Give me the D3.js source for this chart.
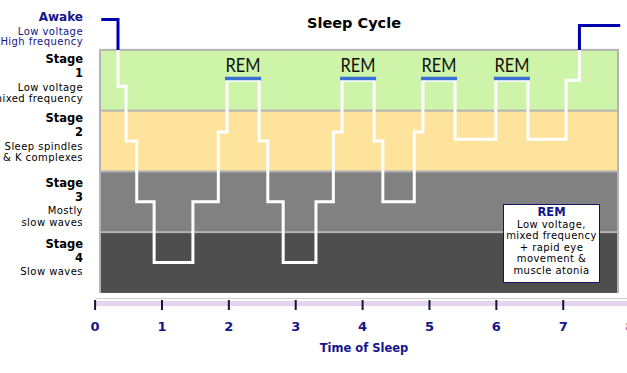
<!DOCTYPE html>
<html>
<head>
<meta charset="utf-8">
<script src="https://cdn.jsdelivr.net/npm/d3@7"></script>
<style>
  body { margin: 0; background: #fff; }
  svg { display: block; }
  .small { font-family: 'DejaVu Sans', sans-serif; font-size: 10px; letter-spacing: 0.45px; }
  .bold { font-family: 'DejaVu Sans', sans-serif; font-weight: bold; }
</style>
</head>
<body>
<svg width="627" height="373"></svg>
<script>
const svg = d3.select('svg');

// hypnogram: time (hours) where each stage starts, and the stage held from then on
const times  = [0.1, 0.35, 0.47, 0.63, 0.89, 1.47, 1.85, 1.98, 2.46, 2.59, 2.82, 3.31, 3.57, 3.70, 4.18, 4.31, 4.78, 4.91, 5.39, 6.00, 6.48, 7.05, 7.25, 7.86];
const stages = [0,   1.1,  2,    3,    4,    3,    1.85, 1,    2,    3,    4,    3,    1.85, 1,    2,    3,    1.85, 1,    1.97, 1,    1.97, 1,    0.1,  0.1];

// REM periods (hours)
const remStart = [1.98, 3.70, 4.91, 6.00];
const remEnd   = [2.46, 4.18, 5.39, 6.48];

const xTicks = [0, 1, 2, 3, 4, 5, 6, 7, 8];

const bandStages = [1, 2, 3, 4];
const bandColors = ['#cdf4a9', '#fde39c', '#818181', '#4e4e4e'];
const bandLabels = [
    ['Low voltage', 'mixed frequency'],
    ['Sleep spindles', '& K complexes'],
    ['Mostly', 'slow waves'],
    ['Slow waves']
];
const awakeLabels = ['Low voltage', 'High frequency'];
const remNote = ['Low voltage,', 'mixed frequency', '+ rapid eye', 'movement &', 'muscle atonia'];

const navy = '#14148c';
const panelLeft = 100, panelRight = 618;

const xScale = d3.scaleLinear().domain([0, 8]).range([94.6, 629.6]);
const yScale = d3.scaleLinear().domain([0, 4]).range([19.5, 262.5]);

// stage bands
const panelTop = yScale(0.5), panelBottom = yScale(4.5);
svg.append('rect')
    .attr('x', panelLeft - 1).attr('y', panelTop - 1)
    .attr('width', panelRight - panelLeft + 2).attr('height', panelBottom - panelTop + 1)
    .attr('fill', '#b4b4b4');
svg.selectAll('.band').data(bandStages).enter().append('rect')
    .attr('class', 'band')
    .attr('x', panelLeft + 1)
    .attr('width', panelRight - panelLeft - 2)
    .attr('y', d => yScale(d - 0.5) + 1)
    .attr('height', d => yScale(d + 0.5) - yScale(d - 0.5) - (d === 4 ? 1 : 2))
    .attr('fill', (d, i) => bandColors[i]);

// hypnogram line: blue above the panel (awake), white inside
const defs = svg.append('defs');
defs.append('clipPath').attr('id', 'above')
    .append('rect').attr('x', 0).attr('y', 0).attr('width', 627).attr('height', panelTop);
defs.append('clipPath').attr('id', 'inside')
    .append('rect').attr('x', 0).attr('y', panelTop).attr('width', 627).attr('height', 373);

const pts = times.map((t, i) => [t, stages[i]]);
const line = d3.line()
    .x(d => xScale(d[0]))
    .y(d => yScale(d[1]))
    .curve(d3.curveStepAfter);

svg.append('path')
    .attr('d', line(pts))
    .attr('fill', 'none')
    .attr('stroke', '#0000b0')
    .attr('stroke-width', 3)
    .attr('clip-path', 'url(#above)');
svg.append('path')
    .attr('d', line(pts))
    .attr('fill', 'none')
    .attr('stroke', '#ffffff')
    .attr('stroke-width', 3)
    .attr('clip-path', 'url(#inside)');

// REM bars + labels
remStart.forEach((s, i) => {
    const x0 = xScale(s) - 2, x1 = xScale(remEnd[i]) + 2;
    svg.append('rect')
        .attr('x', x0).attr('y', yScale(1) - 3.5)
        .attr('width', x1 - x0).attr('height', 3.5)
        .attr('fill', '#3a6fd2');
    svg.append('text')
        .attr('x', (x0 + x1) / 2).attr('y', yScale(1) - 8)
        .attr('text-anchor', 'middle')
        .attr('font-family', 'Lato, sans-serif')
        .attr('font-size', 19)
        .attr('textLength', 35)
        .attr('lengthAdjust', 'spacingAndGlyphs')
        .attr('fill', '#111')
        .text('REM');
});

// title
svg.append('text')
    .attr('class', 'bold')
    .attr('x', 354).attr('y', 28)
    .attr('text-anchor', 'middle')
    .attr('font-size', 14.5)
    .attr('fill', '#000')
    .text('Sleep Cycle');

// left labels
const labelX = 83;
svg.append('text').attr('class', 'bold')
    .attr('x', labelX).attr('y', 21).attr('text-anchor', 'end')
    .attr('font-size', 12).attr('fill', navy).text('Awake');
awakeLabels.forEach((t, i) => {
    svg.append('text').attr('class', 'small')
        .attr('x', labelX).attr('y', 34.5 + i * 10).attr('text-anchor', 'end')
        .attr('fill', navy).text(t);
});

const stageShift = [0, -2, 2, 2];
bandStages.forEach((s, i) => {
    const base = yScale(s) + stageShift[i];
    const g = svg.append('g');
    g.append('text').attr('class', 'bold')
        .attr('x', labelX).attr('y', base - 17).attr('text-anchor', 'end')
        .attr('font-size', 11.5).attr('fill', '#000').text('Stage');
    g.append('text').attr('class', 'bold')
        .attr('x', labelX).attr('y', base - 3).attr('text-anchor', 'end')
        .attr('font-size', 11.5).attr('fill', '#000').text(s);
    bandLabels[i].forEach((t, j) => {
        g.append('text').attr('class', 'small')
            .attr('x', labelX).attr('y', base + 10.5 + j * 11.5).attr('text-anchor', 'end')
            .attr('fill', '#000').text(t);
    });
});

// REM note box
const box = svg.append('g').attr('transform', 'translate(503,204)');
box.append('rect')
    .attr('x', 0.5).attr('y', 0.5).attr('width', 96).attr('height', 78)
    .attr('fill', '#fff').attr('stroke', '#141460');
box.append('text').attr('class', 'bold')
    .attr('x', 48.5).attr('y', 12).attr('text-anchor', 'middle')
    .attr('font-size', 11.5).attr('fill', navy).text('REM');
remNote.forEach((t, i) => {
    box.append('text').attr('class', 'small')
        .attr('x', 48.5).attr('y', 23.5 + i * 11.5).attr('text-anchor', 'middle')
        .attr('fill', '#000').text(t);
});

// x axis
svg.append('line')
    .attr('x1', 96).attr('x2', 627).attr('y1', 298.5).attr('y2', 298.5)
    .attr('stroke', '#d0d0d0');
svg.append('rect')
    .attr('x', 96).attr('y', 301).attr('width', 531).attr('height', 5)
    .attr('fill', '#e4d4ee');

const xAxis = d3.axisBottom(xScale)
    .tickValues(xTicks)
    .tickSize(10)
    .tickPadding(12)
    .tickFormat(d3.format('d'));

const xAxisG = svg.append('g')
    .attr('transform', 'translate(0,300)')
    .call(xAxis);
xAxisG.select('.domain').remove();
xAxisG.selectAll('.tick line')
    .attr('stroke', '#14143c')
    .attr('stroke-width', 2);
xAxisG.selectAll('.tick text')
    .attr('class', 'bold')
    .attr('font-size', 13)
    .attr('fill', navy);

svg.append('text')
    .attr('class', 'bold')
    .attr('x', 364).attr('y', 352)
    .attr('text-anchor', 'middle')
    .attr('font-size', 11.5)
    .attr('fill', navy)
    .text('Time of Sleep');
</script>
</body>
</html>
